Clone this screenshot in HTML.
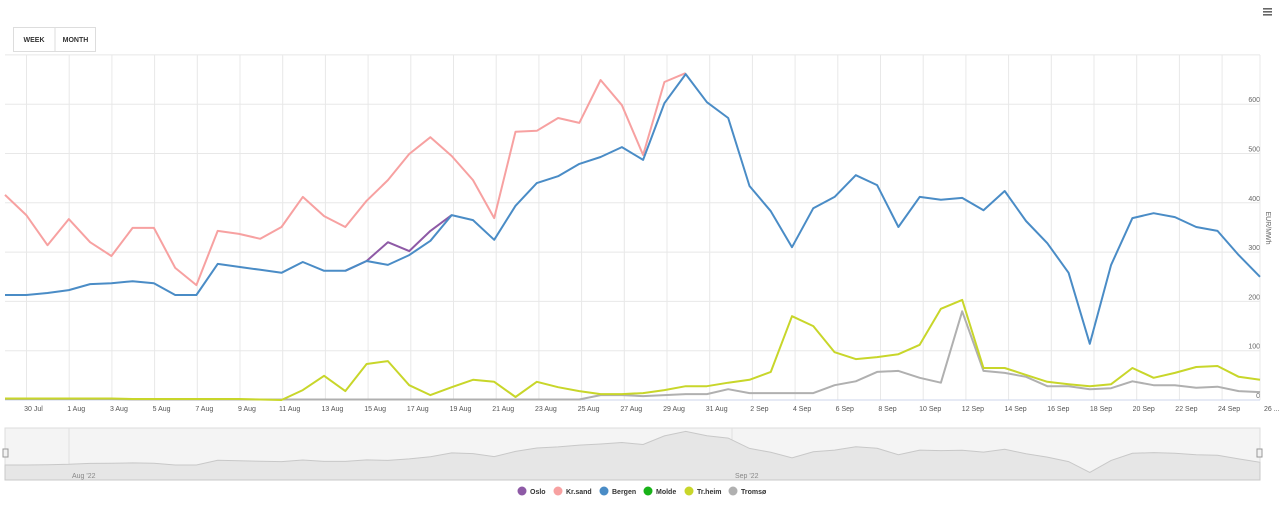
<!DOCTYPE html>
<html><head><meta charset="utf-8"><style>
body{margin:0;background:#fff;font-family:"Liberation Sans",sans-serif;}
svg{display:block}
</style></head><body>
<svg id="s" width="1280" height="512" xmlns="http://www.w3.org/2000/svg" font-family="Liberation Sans, sans-serif"></svg>
<script>
const X=[];for(let i=0;i<60;i++)X.push(5+i*(1255/59));
const Y=v=>400-0.493*v;
const kr=[416,375,314,367,320,292,349,349,268,233,343,337,327,351,412,373,351,404,446,499,533,495,446,369,544,546,572,562,649,598,497,645,663];
const be=[213,213,217,223,235,237,241,237,213,213,276,270,264,258,280,262,262,282,274,294,323,375,365,325,394,440,454,479,493,513,487,602,661,604,572,434,383,310,389,412,456,436,351,412,406,410,385,424,363,318,258,114,274,369,379,371,351,343,294,250];
const os=[262,282,320,302,343,375];
const tr=[3,3,3,3,3,3,2,2,2,2,2,2,1,0,20,49,18,73,79,30,10,26,41,37,6,37,26,18,12,12,14,20,28,28,35,41,57,170,150,97,83,87,93,112,185,203,65,65,51,37,32,28,32,65,45,55,67,69,47,41];
const tm=[2,2,2,2,2,2,1,1,1,1,1,1,1,1,1,1,1,1,1,1,1,1,1,1,1,1,1,1,10,10,8,10,12,12,22,14,14,14,14,30,38,57,59,45,35,180,59,55,47,28,28,22,24,38,30,30,25,27,18,16];
let h='';
for(let i=0;i<=29;i++){const x=26.5+i*42.7;if(x<1260)h+=`<line x1="${x}" y1="55" x2="${x}" y2="400" stroke="#e8e8e8"/>`;}
for(let v=0;v<=700;v+=100){const y=Y(v);h+=`<line x1="5" y1="${y}" x2="1260" y2="${y}" stroke="#e8e8e8"/>`;if(v<700)h+=`<text x="1260" y="${y-2}" font-size="7" fill="#666" text-anchor="end">${v}</text>`;}
h+=`<line x1="1260" y1="55" x2="1260" y2="400" stroke="#e8e8e8"/>`;
h+=`<line x1="5" y1="400" x2="1260" y2="400" stroke="#ccd6eb"/>`;
const lab=["30 Jul","1 Aug","3 Aug","5 Aug","7 Aug","9 Aug","11 Aug","13 Aug","15 Aug","17 Aug","19 Aug","21 Aug","23 Aug","25 Aug","27 Aug","29 Aug","31 Aug","2 Sep","4 Sep","6 Sep","8 Sep","10 Sep","12 Sep","14 Sep","16 Sep","18 Sep","20 Sep","22 Sep","24 Sep","26 ..."];
lab.forEach((t,i)=>{const x=26.5+i*42.7;h+=`<text x="${x+7}" y="411" font-size="7" fill="#555" text-anchor="middle">${t}</text>`;});
h+=`<text x="1266" y="228" font-size="7" fill="#666" transform="rotate(90 1266 228)" text-anchor="middle">EUR/MWh</text>`;
const path=(d,o,c)=>{let p=d.map((v,i)=>`${X[i+o].toFixed(1)},${Y(v).toFixed(1)}`).join(' ');return `<polyline points="${p}" fill="none" stroke="${c}" stroke-width="2" stroke-linejoin="round"/>`;};
h+=path(tm,0,'#b0b0b0');h+=path(tr,0,'#c8d62a');h+=path(kr,0,'#f7a1a1');h+=path(os,16,'#8e5aa6');h+=path(be,0,'#4a8cc6');
h+=`<rect x="5" y="428" width="1255" height="52" fill="#f4f4f4" stroke="#ddd"/>`;
h+=`<line x1="69" y1="428" x2="69" y2="480" stroke="#e0e0e0"/><line x1="732" y1="428" x2="732" y2="480" stroke="#e0e0e0"/>`;
let np=`M5,480 `+be.map((v,i)=>`L${X[i].toFixed(1)},${(481-0.075*v).toFixed(1)}`).join(' ')+` L1260,480 Z`;
h+=`<path d="${np}" fill="#e6e6e6" stroke="#c8c8c8" stroke-width="1"/>`;
h+=`<text x="72" y="478" font-size="7" fill="#888">Aug '22</text><text x="735" y="478" font-size="7" fill="#888">Sep '22</text>`;
h+=`<rect x="3" y="449" width="5" height="8" fill="#f2f2f2" stroke="#999"/><rect x="1257" y="449" width="5" height="8" fill="#f2f2f2" stroke="#999"/>`;
[["Oslo","#8e5aa6",522],["Kr.sand","#f7a1a1",558],["Bergen","#4a8cc6",604],["Molde","#19b219",648],["Tr.heim","#c8d62a",689],["Tromsø","#b0b0b0",733]].forEach(([t,c,x])=>{h+=`<circle cx="${x}" cy="491" r="4.5" fill="${c}"/><text x="${x+8}" y="494" font-size="7" font-weight="bold" fill="#333">${t}</text>`;});
h+=`<rect x="13.5" y="27.5" width="82" height="24" fill="#fff" stroke="#ddd"/><line x1="55" y1="28" x2="55" y2="51" stroke="#ddd"/>`;
h+=`<text x="34" y="42" font-size="7" font-weight="bold" fill="#333" text-anchor="middle">WEEK</text><text x="75.5" y="42" font-size="7" font-weight="bold" fill="#333" text-anchor="middle">MONTH</text>`;
h+=`<rect x="1263" y="8" width="9" height="1.6" fill="#666"/><rect x="1263" y="11" width="9" height="1.6" fill="#666"/><rect x="1263" y="14" width="9" height="1.6" fill="#666"/>`;
document.getElementById('s').innerHTML=h;
</script>
</body></html>
